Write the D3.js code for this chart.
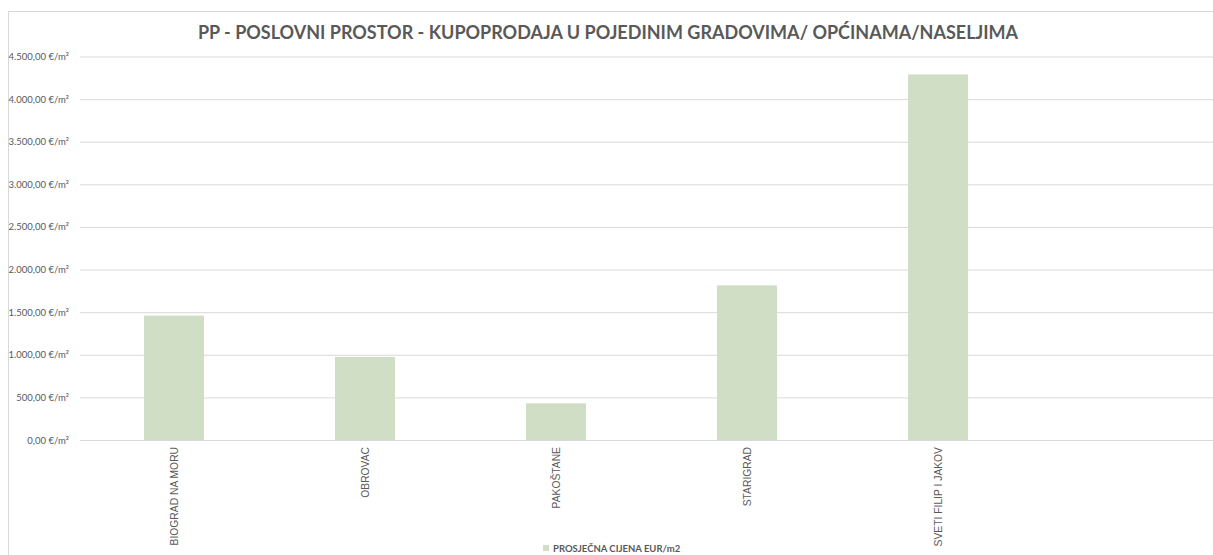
<!DOCTYPE html>
<html>
<head>
<meta charset="utf-8">
<script src="https://cdn.jsdelivr.net/npm/d3@7"></script>
<style>
  body { margin: 0; background: #fff; }
  svg { display: block; font-family: Lato, "Open Sans", sans-serif; }
  .grid-line { stroke: #d9d9d9; stroke-width: 1; }
</style>
</head>
<body>
<svg id="chart"></svg>
<script>
// data
const titleText = "PP - POSLOVNI PROSTOR - KUPOPRODAJA U POJEDINIM GRADOVIMA/ OPĆINAMA/NASELJIMA";
const seriesName = "PROSJEČNA CIJENA EUR/m2";
const cities = ["BIOGRAD NA MORU", "OBROVAC", "PAKOŠTANE", "STARIGRAD", "SVETI FILIP I JAKOV"];
const prices = [1460, 975, 430, 1815, 4290];
const yTicks = [0, 500, 1000, 1500, 2000, 2500, 3000, 3500, 4000, 4500];

let width = 1213;
let height = 555;

let svg = d3.select("#chart")
  .attr("width", width)
  .attr("height", height);

// chart frame (cropped on right/bottom)
svg.append("rect")
  .attr("x", 8.5).attr("y", 11.5)
  .attr("width", 1300).attr("height", 700)
  .attr("fill", "none")
  .attr("stroke", "#d9d9d9");

let plotLeft = 78.5;
let plotTop = 56.5;
let plotBottom = 440;
let gridRight = 1213;

let scaleX = d3.scaleBand()
  .domain(cities)
  .range([plotLeft, plotLeft + 191 * cities.length])
  .paddingInner(0.686)
  .paddingOuter(0.343);

let scaleY = d3.scaleLinear()
  .domain([0, 4500])
  .range([plotBottom, plotTop]);

let fmt = d => d.toLocaleString("de-DE", {minimumFractionDigits: 2, maximumFractionDigits: 2}) + " €/m²";

// y axis with gridlines
let axisY = d3.axisLeft(scaleY)
  .tickValues(yTicks)
  .tickFormat(fmt)
  .tickSize(0)
  .tickPadding(11);

let gy = svg.append("g")
  .attr("transform", `translate(${plotLeft + 1.5}, 0)`)
  .call(axisY);
gy.select(".domain").remove();
gy.selectAll("text")
  .attr("fill", "#595959")
  .style("font-size", "9.5px")
  .style("font-family", "Lato, sans-serif");
gy.selectAll("g.tick")
  .append("line")
  .classed("grid-line", true)
  .attr("x1", 0)
  .attr("y1", 0)
  .attr("x2", gridRight)
  .attr("y2", 0);

// bars
svg.selectAll(".bar")
  .data(cities)
  .enter()
  .append("rect")
  .attr("class", "bar")
  .attr("x", d => scaleX(d))
  .attr("width", scaleX.bandwidth())
  .attr("y", (d, i) => scaleY(prices[i]))
  .attr("height", (d, i) => plotBottom - scaleY(prices[i]))
  .attr("fill", "#cfdec5");

// x axis labels
let axisX = d3.axisBottom(scaleX).tickSize(0).tickPadding(0);
let gx = svg.append("g")
  .attr("transform", `translate(0, ${plotBottom})`)
  .call(axisX);
gx.select(".domain").remove();
gx.selectAll("text")
  .attr("fill", "#595959")
  .style("font-size", "10.3px")
  .style("font-family", "'Liberation Sans', Arial, sans-serif")
  .style("text-anchor", "end")
  .attr("dy", "0.35em")
  .attr("y", 0)
  .attr("transform", "translate(0, 7) rotate(-90)");

// title
svg.append("text")
  .attr("x", 608)
  .attr("y", 39)
  .attr("text-anchor", "middle")
  .attr("fill", "#595959")
  .style("font-size", "18px")
  .style("font-weight", "bold")
  .text(titleText);

// legend
svg.append("rect")
  .attr("x", 543).attr("y", 545)
  .attr("width", 6).attr("height", 6)
  .attr("fill", "#cfdec5");
svg.append("text")
  .attr("x", 553)
  .attr("y", 551.5)
  .attr("fill", "#595959")
  .style("font-size", "9.5px")
  .style("font-weight", "bold")
  .text(seriesName);
</script>
</body>
</html>
